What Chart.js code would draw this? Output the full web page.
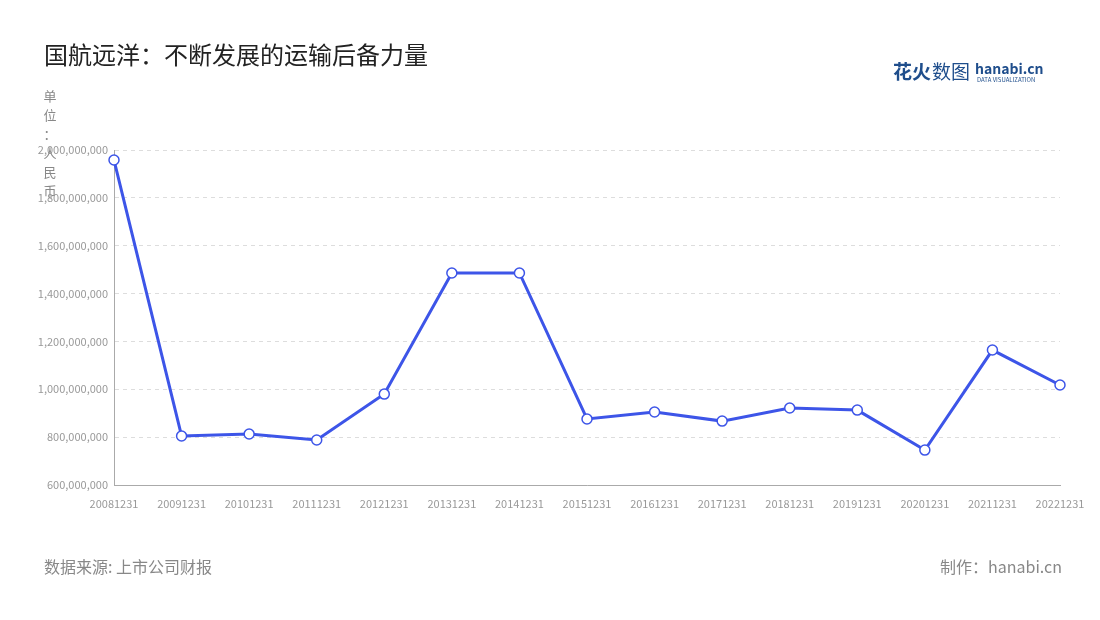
<!DOCTYPE html>
<html><head><meta charset="utf-8">
<script src="https://cdn.jsdelivr.net/npm/chart.js@4"></script>
<style>body{margin:0;background:#fff}#wrap{width:1100px;height:620px;position:relative}</style>
</head><body><div id="wrap"><canvas id="c"></canvas></div>
<script>
const categories = ['20081231','20091231','20101231','20111231','20121231','20131231','20141231','20151231','20161231','20171231','20181231','20191231','20201231','20211231','20221231'];
const values = [1958e6, 805e6, 813e6, 788e6, 980e6, 1486e6, 1486e6, 876e6, 905e6, 867e6, 922e6, 913e6, 746e6, 1164e6, 1018e6];
const FONT = '"Noto Sans CJK SC", "Noto Sans", sans-serif';

const decor = {
  id: 'decor',
  afterDraw(chart) {
    const ctx = chart.ctx;
    ctx.save();
    ctx.textBaseline = 'middle';
    ctx.fillStyle = '#222';
    ctx.font = '24px ' + FONT;
    ctx.fillText('国航远洋：不断发展的运输后备力量', 44, 55);
    ctx.fillStyle = '#888';
    ctx.font = '13px ' + FONT;
    const unit = ['单','位','：','人','民','币'];
    unit.forEach((ch, i) => { ctx.textAlign = 'center'; ctx.fillText(ch, 50, 96 + i * 19); });
    ctx.textAlign = 'left';
    ctx.font = '16px ' + FONT;
    ctx.fillStyle = '#888';
    ctx.fillText('数据来源: 上市公司财报', 44, 567);
    ctx.textAlign = 'right';
    ctx.fillText('制作：hanabi.cn', 1062, 567);
    ctx.textAlign = 'left';
    ctx.fillStyle = '#1f4e8c';
    ctx.font = 'bold 19px ' + FONT;
    ctx.fillText('花火', 893, 72);
    ctx.font = '19px ' + FONT;
    ctx.fillText('数图', 932, 72);
    ctx.font = 'bold 14px ' + FONT;
    ctx.fillText('hanabi.cn', 975, 69);
    ctx.font = '6px ' + FONT;
    ctx.fillText('DATA VISUALIZATION', 977, 80);
    ctx.restore();
  }
};

new Chart(document.getElementById('c'), {
  type: 'line',
  data: {
    labels: categories,
    datasets: [{
      data: values,
      borderColor: '#3d55e8',
      borderWidth: 3,
      pointRadius: 5,
      pointHoverRadius: 5,
      pointBackgroundColor: '#fff',
      pointBorderColor: '#3d55e8',
      pointBorderWidth: 1.5,
      tension: 0
    }]
  },
  options: {
    responsive: true,
    maintainAspectRatio: false,
    animation: false,
    layout: { padding: { top: 150, left: 0, right: 40, bottom: 0 } },
    plugins: { legend: { display: false }, tooltip: { enabled: false } },
    scales: {
      x: {
        offset: false,
        grid: { display: false },
        border: { color: '#aaa' },
        ticks: { color: '#999', font: { size: 11, family: FONT }, maxRotation: 0, autoSkip: false, padding: 4 },
        afterFit(s) { s.height = 135; }
      },
      y: {
        min: 600e6, max: 2000e6,
        grid: { color: '#ddd', drawTicks: false },
        border: { display: true, color: '#aaa', dash: [4, 4] },
        ticks: { stepSize: 200e6, color: '#999', font: { size: 11, family: FONT }, padding: 6,
          callback: v => v.toLocaleString('en-US') },
        afterFit(s) { s.width = 114; }
      }
    }
  },
  plugins: [decor]
});
</script></body></html>
